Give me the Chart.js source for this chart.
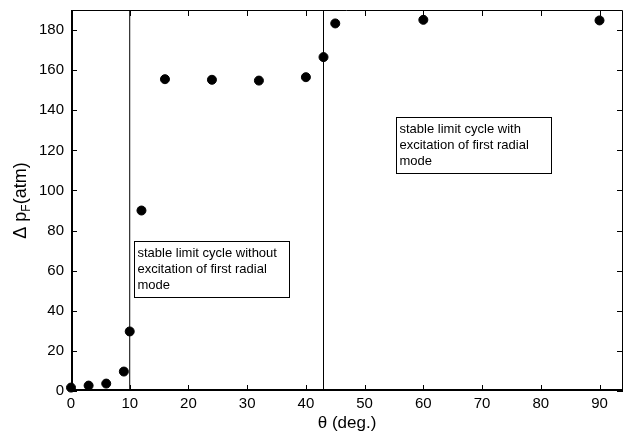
<!DOCTYPE html>
<html>
<head>
<meta charset="utf-8">
<script src="https://cdn.jsdelivr.net/npm/chart.js@4/dist/chart.umd.min.js"></script>
<style>
  html, body { margin: 0; padding: 0; background: #fff; }
  #wrap { width: 625px; height: 439px; }
</style>
</head>
<body>
<div id="wrap"><canvas id="myChart"></canvas></div>
<script>
// data
const thetaDeg = [0, 3, 6, 9, 10, 12, 16, 24, 32, 40, 43, 45, 60, 90];
const deltaPF = [1.7, 2.7, 3.7, 9.7, 29.7, 90, 155.5, 155.2, 154.8, 156.5, 166.5, 183.3, 185.1, 184.8];
const boundaryDeg = [10, 43];
const xTickValues = [0, 10, 20, 30, 40, 50, 60, 70, 80, 90];
const yTickValues = [0, 20, 40, 60, 80, 100, 120, 140, 160, 180];
const noteLeft = ["stable limit cycle without", "excitation of first radial", "mode"];
const noteRight = ["stable limit cycle with", "excitation of first radial", "mode"];

const FONT = '"Liberation Sans", Arial, sans-serif';

const points = thetaDeg.map((t, i) => ({ x: t, y: deltaPF[i] }));
const boundaryLines = boundaryDeg.map((b) => ({
  type: "line",
  data: [{ x: b, y: 0 }, { x: b, y: 190 }],
  borderColor: "#000",
  borderWidth: 1,
  pointRadius: 0,
  fill: false,
}));

// frame, inward ticks, text boxes and y title
const decorations = {
  id: "decorations",
  afterDatasetsDraw(chart) {
    const ctx = chart.ctx;
    const xs = chart.scales.x;
    const ys = chart.scales.y;
    const a = chart.chartArea;
    ctx.save();
    ctx.strokeStyle = "#000";

    ctx.lineWidth = 1;
    xTickValues.forEach((v) => {
      const px = Math.round(xs.getPixelForValue(v)) + 0.5;
      ctx.beginPath();
      ctx.moveTo(px, a.bottom); ctx.lineTo(px, a.bottom - 6);
      ctx.moveTo(px, a.top); ctx.lineTo(px, a.top + 6);
      ctx.stroke();
    });
    yTickValues.forEach((v) => {
      const py = Math.round(ys.getPixelForValue(v)) + 0.5;
      ctx.beginPath();
      ctx.moveTo(a.left, py); ctx.lineTo(a.left + 6, py);
      ctx.moveTo(a.right, py); ctx.lineTo(a.right - 6, py);
      ctx.stroke();
    });

    // top/right thin, left/bottom thick
    ctx.beginPath();
    ctx.moveTo(a.left, a.top + 0.5); ctx.lineTo(a.right - 0.5, a.top + 0.5);
    ctx.lineTo(a.right - 0.5, a.bottom);
    ctx.stroke();
    ctx.lineWidth = 2;
    ctx.beginPath();
    ctx.moveTo(a.left + 1, a.top); ctx.lineTo(a.left + 1, a.bottom - 1);
    ctx.lineTo(a.right, a.bottom - 1);
    ctx.stroke();

    // note boxes
    const drawNote = (lines, xv, yv) => {
      const left = Math.round(xs.getPixelForValue(xv)) + 0.5;
      const top = Math.round(ys.getPixelForValue(yv)) + 0.5;
      ctx.font = "13px " + FONT;
      const w = 155;
      const h = lines.length * 16 + 8;
      ctx.fillStyle = "#fff";
      ctx.fillRect(left, top, w, h);
      ctx.lineWidth = 1;
      ctx.strokeStyle = "#000";
      ctx.strokeRect(left, top, w, h);
      ctx.fillStyle = "#000";
      ctx.textBaseline = "middle";
      ctx.textAlign = "left";
      lines.forEach((l, i) => ctx.fillText(l, left + 3, top + 12 + i * 16));
    };
    drawNote(noteLeft, 10.7, 75);
    drawNote(noteRight, 55.4, 136.5);

    // y axis title with subscript
    ctx.translate(21, (a.top + a.bottom) / 2);
    ctx.rotate(-Math.PI / 2);
    ctx.fillStyle = "#000";
    ctx.textBaseline = "middle";
    const parts = [
      { t: "\u0394 p", f: "18px " + FONT, dy: 0 },
      { t: "F", f: "12px " + FONT, dy: 6 },
      { t: "(atm)", f: "18px " + FONT, dy: 0 },
    ];
    let total = 0;
    parts.forEach((p) => { ctx.font = p.f; total += ctx.measureText(p.t).width; });
    let cx = -total / 2;
    parts.forEach((p) => {
      ctx.font = p.f;
      ctx.fillText(p.t, cx, p.dy);
      cx += ctx.measureText(p.t).width;
    });
    ctx.restore();
  },
};

const ctx = document.getElementById("myChart").getContext("2d");
const myChart = new Chart(ctx, {
  type: "scatter",
  data: {
    datasets: [
      {
        label: "delta pF",
        data: points,
        backgroundColor: "#000",
        borderColor: "#000",
        pointRadius: 4.5,
        pointHoverRadius: 4.5,
        clip: false,
      },
      ...boundaryLines,
    ],
  },
  options: {
    responsive: true,
    maintainAspectRatio: false,
    animation: false,
    layout: { autoPadding: false, padding: { top: 10, right: 2, left: 0, bottom: 5 } },
    plugins: {
      legend: { display: false },
      tooltip: { enabled: false },
    },
    scales: {
      x: {
        type: "linear",
        min: 0,
        max: 94,
        afterBuildTicks: (scale) => {
          scale.ticks = xTickValues.map((v) => ({ value: v }));
        },
        afterFit: (scale) => {
          scale.height = 43;
          scale.paddingLeft = 0;
          scale.paddingRight = 0;
        },
        grid: { display: false, drawTicks: false },
        border: { display: false },
        ticks: {
          color: "#000",
          font: { family: FONT, size: 15 },
          padding: 4,
          maxRotation: 0,
        },
        title: {
          display: true,
          text: "\u03B8 (deg.)",
          color: "#000",
          font: { family: FONT, size: 17 },
          padding: { top: 0, bottom: 0 },
        },
      },
      y: {
        type: "linear",
        min: 0,
        max: 190,
        afterBuildTicks: (scale) => {
          scale.ticks = yTickValues.map((v) => ({ value: v }));
        },
        afterFit: (scale) => {
          scale.width = 71;
          scale.paddingTop = 0;
          scale.paddingBottom = 0;
        },
        grid: { display: false, drawTicks: false },
        border: { display: false },
        ticks: {
          color: "#000",
          font: { family: FONT, size: 15 },
          padding: 7,
        },
      },
    },
  },
  plugins: [decorations],
});
</script>
</body>
</html>
